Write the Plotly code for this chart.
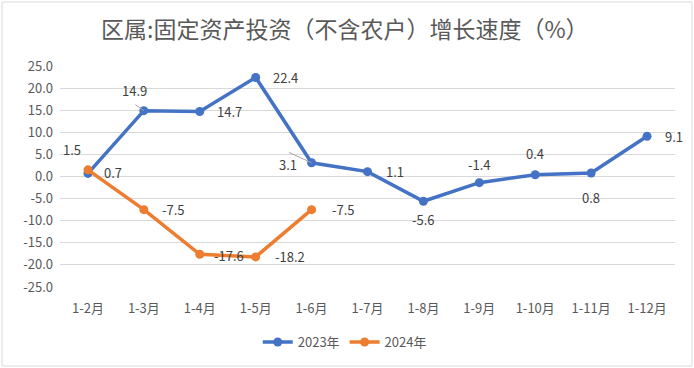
import plotly.graph_objects as go

categories = ["1-2月", "1-3月", "1-4月", "1-5月", "1-6月", "1-7月", "1-8月", "1-9月", "1-10月", "1-11月", "1-12月"]
values_2023 = [0.7, 14.9, 14.7, 22.4, 3.1, 1.1, -5.6, -1.4, 0.4, 0.8, 9.1]
values_2024 = [1.5, -7.5, -17.6, -18.2, -7.5]
y_ticks = [25, 20, 15, 10, 5, 0, -5, -10, -15, -20, -25]

# label offsets (pixels) for data labels
off_2023 = [(25, 1), (-9, 20), (30, 0), (30, 0), (-24, -2), (27, 0), (0, -18), (0, 18), (0, 21), (0, -25), (27, 0)]
off_2024 = [(-16, 20), (30, 0), (29, -1), (34, 0), (32, 0)]
# leader lines (index in 2023 series -> tail offset in pixels)
leaders_2023 = {1: (-10, -7), 4: (-24, -11)}

BLUE = "#4472C4"
ORANGE = "#ED7D31"
FONT = "Noto Sans CJK SC, Liberation Sans, sans-serif"

fig = go.Figure()
fig.add_trace(go.Scatter(x=categories, y=values_2023, name="2023年", mode="lines+markers",
                         line=dict(color=BLUE, width=3.5), marker=dict(size=9, color=BLUE)))
fig.add_trace(go.Scatter(x=categories[:len(values_2024)], y=values_2024, name="2024年", mode="lines+markers",
                         line=dict(color=ORANGE, width=3.5), marker=dict(size=9, color=ORANGE)))

anns = []
for i, (ax_, ay_) in leaders_2023.items():
    anns.append(dict(x=categories[i], y=values_2023[i], text="", showarrow=True, arrowhead=0,
                     arrowwidth=1, arrowcolor="#A6A6A6", ax=ax_, ay=ay_, standoff=0))
for c, v, (dx, dy) in zip(categories, values_2023, off_2023):
    anns.append(dict(x=c, y=v, text=f"{v:.1f}", showarrow=False, xshift=dx, yshift=dy,
                     font=dict(size=13, color="#404040", family=FONT)))
for c, v, (dx, dy) in zip(categories, values_2024, off_2024):
    anns.append(dict(x=c, y=v, text=f"{v:.1f}", showarrow=False, xshift=dx, yshift=dy,
                     font=dict(size=13, color="#404040", family=FONT)))
anns.append(dict(text="区属:固定资产投资（不含农户）增长速度（%）", xref="paper", yref="paper",
                 x=0.463, y=1.172, xanchor="center", yanchor="middle", showarrow=False,
                 font=dict(size=23, color="#595959", family=FONT)))

fig.update_layout(
    width=694, height=368,
    margin=dict(l=60, r=19, t=66, b=81, autoexpand=False),
    paper_bgcolor="white", plot_bgcolor="white",
    showlegend=True,
    legend=dict(orientation="h", x=0.463, xanchor="center", y=-0.249, yanchor="middle",
                font=dict(size=13, color="#595959", family=FONT)),
    annotations=anns,
    xaxis=dict(type="category", range=[-0.5, len(categories) - 0.5], showgrid=False,
               showline=False, zeroline=False, automargin=False, ticklabelstandoff=12,
               tickfont=dict(size=13, color="#595959", family=FONT), ticks=""),
    yaxis=dict(range=[-25, 25], tickvals=y_ticks, ticktext=[f"{t:.1f}" for t in y_ticks],
               showgrid=True, gridcolor="#D9D9D9", gridwidth=1, zeroline=False, showline=False,
               automargin=False, ticklabelstandoff=6,
               tickfont=dict(size=13, color="#595959", family=FONT)),
    shapes=[dict(type="rect", xref="paper", yref="paper",
                 x0=-58 / 615, x1=632 / 615, y0=-79 / 221, y1=285 / 221,
                 line=dict(color="#D9D9D9", width=1))],
)

fig.write_html("out.html", config={"displayModeBar": False},
               post_script="document.body.style.margin='0';document.body.style.overflow='hidden';")
